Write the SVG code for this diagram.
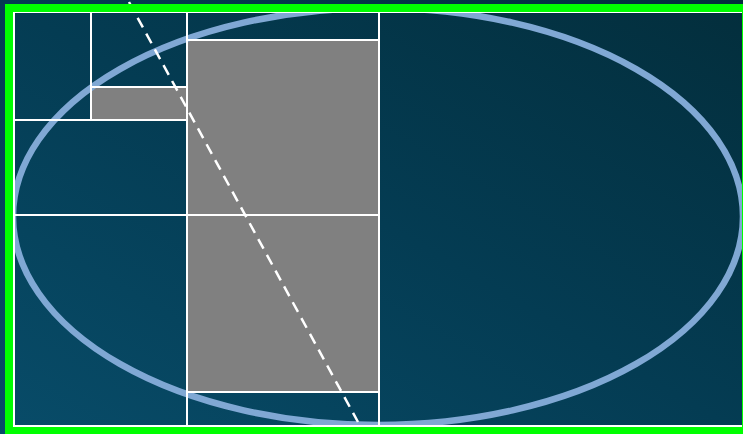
<svg xmlns="http://www.w3.org/2000/svg" width="743" height="434" viewBox="0 0 743 434">
  <defs>
    <linearGradient id="bg" x1="0" y1="1" x2="1" y2="0">
      <stop offset="0" stop-color="#084c69"/>
      <stop offset="0.5" stop-color="#043c53"/>
      <stop offset="1" stop-color="#032e3c"/>
    </linearGradient>
  </defs>
  <style>
    .cell { fill: none; stroke: #ffffff; stroke-width: 2; }
    .gray { fill: #808080; }
    .wl { stroke: #ffffff; stroke-width: 2; fill: none; }
  </style>
  <rect x="0" y="0" width="743" height="434" fill="url(#bg)"/>
  <g id="fills">
    <rect class="gray" x="187" y="40" width="192" height="352"/>
    <rect class="gray" x="91" y="87" width="96" height="33"/>
  </g>
  <ellipse id="ellipse" cx="378" cy="216.5" rx="365" ry="208.5" fill="none" stroke="#80a8d4" stroke-width="6.5"/>
  <g id="grid">
    <rect class="cell" x="14" y="12" width="735" height="414"/>
    <line class="wl" x1="91" y1="12" x2="91" y2="120"/>
    <line class="wl" x1="91" y1="87" x2="187" y2="87"/>
    <line class="wl" x1="14" y1="120" x2="187" y2="120"/>
    <line class="wl" x1="187" y1="12" x2="187" y2="426"/>
    <line class="wl" x1="187" y1="40" x2="379" y2="40"/>
    <line class="wl" x1="14" y1="215" x2="379" y2="215"/>
    <line class="wl" x1="187" y1="392" x2="379" y2="392"/>
    <line class="wl" x1="379" y1="12" x2="379" y2="426"/>
  </g>
  <line id="diagonal" x1="129" y1="2" x2="358" y2="422" stroke="#ffffff" stroke-width="2.5" stroke-dasharray="11,7"/>
  <rect id="frame" x="9" y="8" width="737" height="423" fill="none" stroke="#00ff00" stroke-width="8"/>
</svg>
